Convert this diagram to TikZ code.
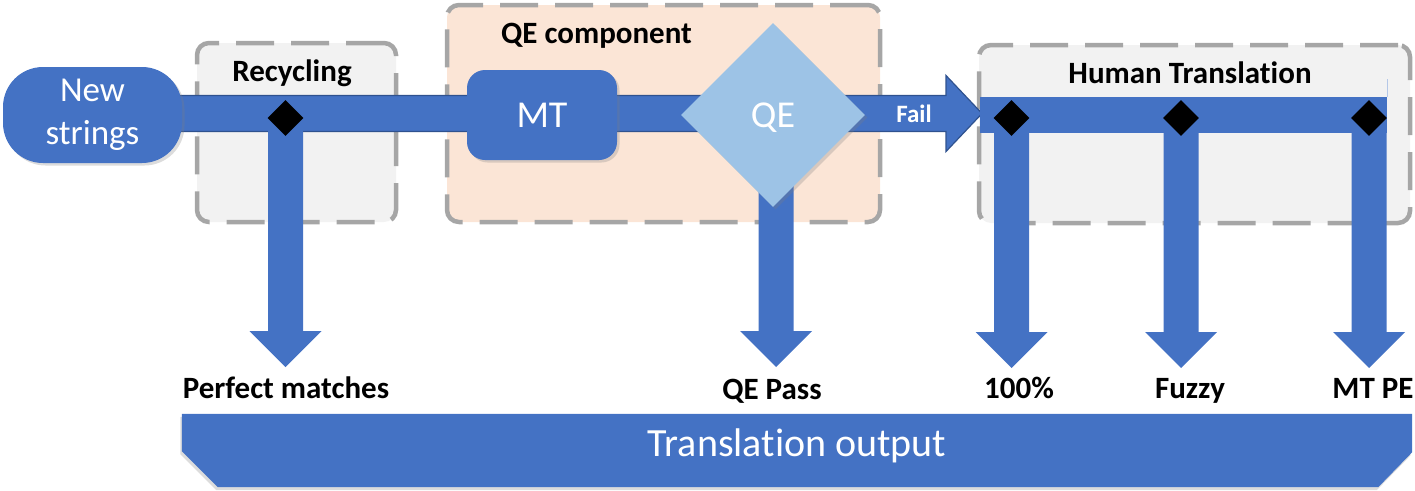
\documentclass[tikz,border=0pt]{standalone}
\usepackage{fontspec}
\setmainfont{Carlito}[Ligatures=NoCommon]
\usetikzlibrary{shapes.geometric,calc,shadows}

\definecolor{flowblue}{HTML}{4472C4}
\definecolor{edgeblue}{HTML}{2F528F}
\definecolor{qeblue}{HTML}{9DC3E6}
\definecolor{peach}{HTML}{FBE5D6}
\definecolor{panelgray}{HTML}{F2F2F2}
\definecolor{dashgray}{HTML}{A6A6A6}
\definecolor{hairblue}{HTML}{B4C7E7}

\pgfdeclarelayer{back}
\pgfdeclarelayer{mid}
\pgfsetlayers{back,mid,main}

% block arrow pointing down: shaft starts at the height of #1, tip at #2
\newcommand\flowdown[2]{%
  \fill[flow] ($(#1 -| #2)+(-17.5,0)$) -- ($(#2)+(-17.5,-36)$) -- ($(#2)+(-36,-36)$)
    -- (#2) -- ($(#2)+(36,-36)$) -- ($(#2)+(17.5,-36)$) -- ($(#1 -| #2)+(17.5,0)$) -- cycle;}

\begin{document}
\begin{tikzpicture}[x=1pt,y=-1pt,
  panel/.style={draw=dashgray,line width=4.5pt,dash pattern=on 38pt off 17pt,
    rounded corners=12pt,inner sep=0pt},
  heading/.style={font=\fontsize{31}{37}\selectfont\bfseries,anchor=base,inner sep=0pt},
  softshadow/.style={drop shadow={opacity=0.28,shadow xshift=2.5pt,shadow yshift=-2.5pt}},
  stage/.style={fill=flowblue,text=white,inner sep=0pt,text depth=0pt,
    font=\fontsize{38}{46}\selectfont,softshadow},
  junction/.style={diamond,fill=black,inner sep=0pt,minimum width=36pt,minimum height=36pt},
  flow/.style={fill=flowblue},
]
\useasboundingbox (0,0) rectangle (1415,490);

% grouping panels
\begin{pgfonlayer}{back}
  \node[panel,fill=panelgray,minimum width=199pt,minimum height=179pt] (recyc) at (296.5,132.5) {};
  \node[panel,fill=peach,minimum width=433pt,minimum height=217pt] (qebox) at (663.5,113.5) {};
  \node[panel,fill=panelgray,minimum width=431pt,minimum height=178pt] (ht) at (1194.5,134) {};
\end{pgfonlayer}
\node[heading] (recyclbl) at (292,81) {Recycling};
\node[heading] (qelbl) at (596.5,43) {QE component};
\node[heading] (htlbl) at (1190,83) {Human Translation};

% stages
\node[stage,rounded corners=40pt,minimum width=179pt,minimum height=96pt,
  align=center,font=\fontsize{35}{42.5}\selectfont,text depth=,yshift=-4pt] (newstr) at (92.5,111) {New\\strings};
\node[stage,rounded corners=18pt,minimum width=150pt,minimum height=90pt] (mt) at (542,115) {MT};
\node[stage,diamond,fill=qeblue,minimum width=184pt,minimum height=184pt] (qe) at (773,115) {QE};

% decision points
\node[junction] (d1) at (285.5,118) {};
\node[junction] (d2) at (1011.5,118) {};
\node[junction] (d3) at (1181,118) {};
\node[junction] (d4) at (1369,118) {};

% arrow tips
\coordinate (failtip) at (982,113.5);
\coordinate (failbase) at (946,113.5);
\coordinate (tpm) at (285.5,367);
\coordinate (tqe) at (776,367);
\coordinate (t100) at (1011.5,368);
\coordinate (tfz) at (1181,368);
\coordinate (tpe) at (1369,368);

\begin{pgfonlayer}{mid}
  % main line: new strings -> MT -> QE -> fail
  \filldraw[fill=flowblue,draw=edgeblue,line width=1.2pt]
    ($(newstr.center|-failtip)+(0,-18)$) -- ($(failbase)+(0,-18)$) -- ($(failbase)+(0,-38)$)
    -- (failtip) -- ($(failbase)+(0,38)$) -- ($(failbase)+(0,18)$)
    -- ($(newstr.center|-failtip)+(0,18)$) -- cycle;
  % human translation line
  \fill[flow] ($(d2)+(-32,-21)$) rectangle ($(d4)+(18,15)$);
  \draw[hairblue,line width=1pt] ($(d4)+(18,-21)$) -- ($(d4)+(18,-39)$);
  % outputs
  \flowdown{d1}{tpm}
  \flowdown{qe}{tqe}
  \flowdown{d2}{t100}
  \flowdown{d3}{tfz}
  \flowdown{d4}{tpe}
\end{pgfonlayer}
\node[font=\fontsize{25}{30}\selectfont\bfseries,text=white,anchor=base,inner sep=0pt] (faillbl) at (914,122) {Fail};

% output labels
\node[heading] (lpm) at (286,398) {Perfect matches};
\node[heading] (lqe) at (772,399) {QE Pass};
\node[heading] (l100) at (1019,398) {100\%};
\node[heading] (lfz) at (1190,398) {Fuzzy};
\node[heading] (lpe) at (1373,398) {MT PE};

% translation output bar
\node[minimum width=1230pt,minimum height=73pt,inner sep=0pt] (out) at (797,450.5) {};
\begin{pgfonlayer}{mid}
  \fill[flow,drop shadow={opacity=0.28,shadow xshift=-1.5pt,shadow yshift=-3pt}]
    (out.north west) -- (out.north east) -- ($(out.south east)+(0,-35)$)
    -- ($(out.south east)+(-34,0)$) -- ($(out.south west)+(36,0)$)
    -- ($(out.south west)+(0,-36)$) -- cycle;
\end{pgfonlayer}
\node[font=\fontsize{40}{48}\selectfont,text=white,anchor=base,inner sep=0pt] (outlbl)
  at ($(out.center)+(0,5.5)$) {Translation output};
\end{tikzpicture}
\end{document}
